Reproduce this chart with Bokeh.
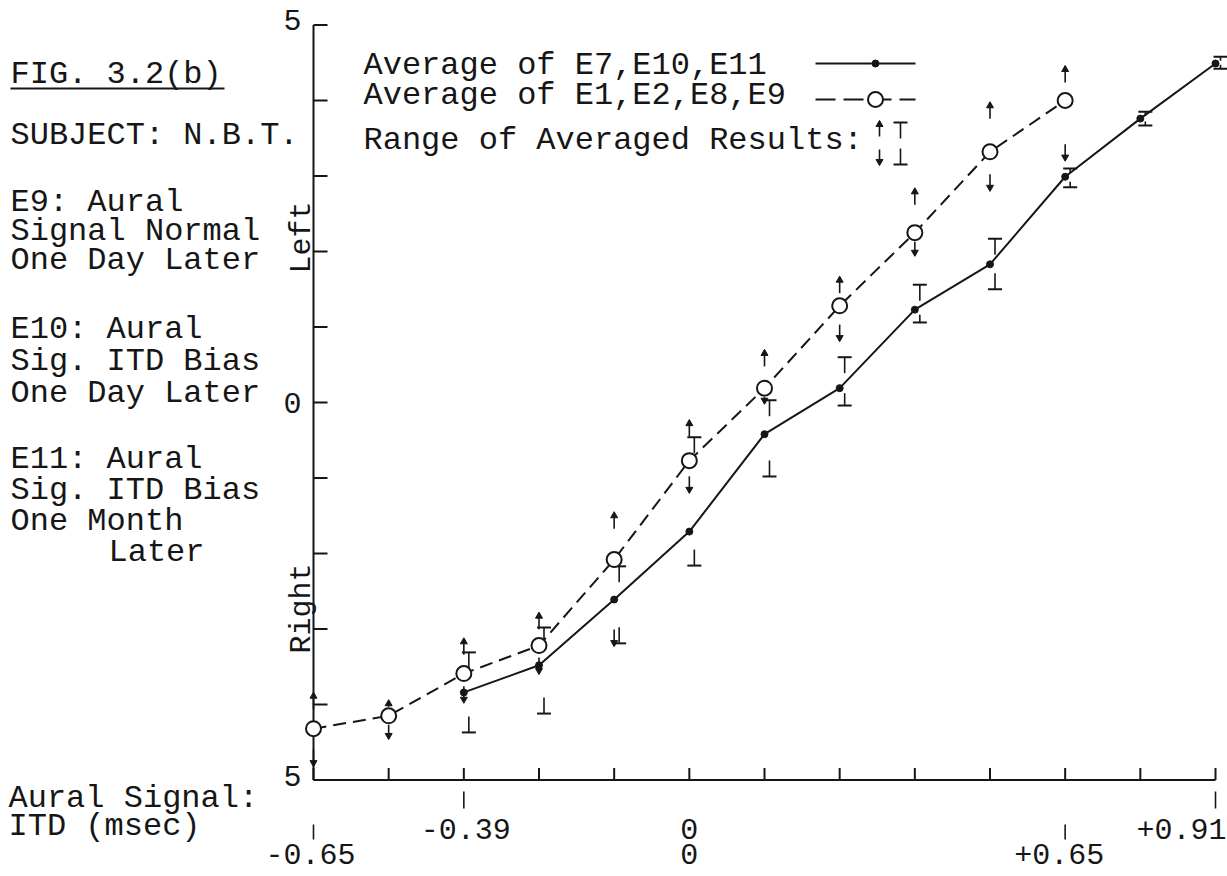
import numpy as np
from bokeh.plotting import figure
from bokeh.models import Range1d
from bokeh.core.properties import value
from bokeh.embed import file_html
from bokeh.resources import INLINE

# ---------------- data ----------------
itd_ticks = [-0.65, -0.52, -0.39, -0.26, -0.13, 0.0, 0.13, 0.26, 0.39, 0.52, 0.65, 0.78, 0.91]

# Average of E1,E2,E8,E9 (dashed, open circles)
avg_a_x = [-0.65, -0.52, -0.39, -0.26, -0.13, 0.0, 0.13, 0.26, 0.39, 0.52, 0.65]
avg_a_y = [-4.32, -4.15, -3.59, -3.22, -2.08, -0.77, 0.19, 1.28, 2.25, 3.32, 4.00]
avg_a_hi = [-3.85, -3.95, -3.13, -2.79, -1.46, -0.24, 0.69, 1.66, 2.83, 3.97, 4.45]
avg_a_lo = [-4.81, -4.45, -3.97, -3.59, -3.22, -1.19, -0.01, 0.82, 1.95, 2.81, 3.21]

# Average of E7,E10,E11 (solid, dots)
avg_b_x = [-0.39, -0.26, -0.13, 0.0, 0.13, 0.26, 0.39, 0.52, 0.65, 0.78, 0.91]
avg_b_y = [-3.84, -3.48, -2.61, -1.71, -0.42, 0.19, 1.23, 1.83, 2.99, 3.76, 4.49]
avg_b_hi = [-3.31, -2.98, -2.17, -0.46, 0.03, 0.60, 1.56, 2.17, 3.10, 3.85, 4.58]
avg_b_lo = [-4.37, -4.12, -3.19, -2.16, -0.98, -0.04, 1.06, 1.50, 2.85, 3.67, 4.42]

y_ticks = [-5, -4, -3, -2, -1, 0, 1, 2, 3, 4, 5]
y_tick_labels = {5: "5", 0: "0", -5: "5"}
x_row1 = [-0.39, 0.0, 0.91]
x_row1_labels = ["-0.39", "0", "+0.91"]
x_row2 = [-0.65, 0.0, 0.65]
x_row2_labels = ["-0.65", "0", "+0.65"]

legend_labels = ["Average of E7,E10,E11", "Average of E1,E2,E8,E9", "Range of Averaged Results:"]
side_notes = ["FIG. 3.2(b)", "SUBJECT: N.B.T.",
              "E9: Aural", "Signal Normal", "One Day Later",
              "E10: Aural", "Sig. ITD Bias", "One Day Later",
              "E11: Aural", "Sig. ITD Bias", "One Month", "Later"]
x_axis_caption = ["Aural Signal:", "ITD (msec)"]

# ---------------- canvas geometry ----------------
W, H = 1227, 876
KX = (1215 - 313) / (0.91 + 0.65)      # px per msec
KY = 75.5                              # px per unit
x_start = -0.65 - 313 / KX
x_end = x_start + W / KX
y_end = 402 / KY
y_start = -(H - 402) / KY
TXT_SHIFT = 8                          # rendered baseline sits a little low


def px(sx):
    return x_start + sx / KX


def py(sy):
    return y_end - sy / KY


def pyt(sy):
    return py(sy - TXT_SHIFT)


INK = "#161616"
FONT = value("Liberation Mono")

p = figure(width=W, height=H, x_range=Range1d(x_start, x_end), y_range=Range1d(y_start, y_end),
           output_backend="svg", toolbar_location=None, min_border=0,
           x_axis_location=None, y_axis_location=None)
p.outline_line_color = None
p.grid.visible = False
p.background_fill_color = "white"
p.border_fill_color = "white"

# ---------------- axes ----------------
yt = np.array(y_ticks, dtype=float)
xt = np.array(itd_ticks, dtype=float)
p.segment(x0=[xt[0]], y0=[yt[0]], x1=[xt[0]], y1=[yt[-1]], line_color=INK, line_width=2)
p.segment(x0=[xt[0]], y0=[yt[0]], x1=[xt[-1]], y1=[yt[0]], line_color=INK, line_width=2)
p.segment(x0=np.full(len(yt), xt[0]), y0=yt, x1=np.full(len(yt), xt[0] + 14 / KX), y1=yt,
          line_color=INK, line_width=2)
p.segment(x0=xt, y0=np.full(len(xt), yt[0]), x1=xt, y1=np.full(len(xt), yt[0] + 12 / KY),
          line_color=INK, line_width=2)
# long label ticks under the axis
r1 = np.array([x_row1[0], x_row1[2]])
p.segment(x0=r1, y0=np.full(2, py(791)), x1=r1, y1=np.full(2, py(808)), line_color=INK, line_width=1.6)
r2 = np.array([x_row2[0], x_row2[2]])
p.segment(x0=r2, y0=np.full(2, py(824)), x1=r2, y1=np.full(2, py(839)), line_color=INK, line_width=1.6)

lab_y = list(y_tick_labels.keys())
lab_t = list(y_tick_labels.values())
p.text(x=[px(292)] * len(lab_y), y=lab_y,
       text=lab_t, text_align="center", text_baseline="middle",
       text_font=FONT, text_font_size="30px", text_color=INK,
       y_offset=[-5 if v == 5 else (-4 if v == -5 else 0) for v in lab_y])
p.text(x=[px(301), px(301)], y=[py(237), py(608)], text=["Left", "Right"], angle=np.pi / 2,
       text_align="center", text_baseline="middle", text_font=FONT, text_font_size="30px",
       text_color=INK)

p.text(x=x_row1[:2], y=[pyt(836)] * 2, text=x_row1_labels[:2], text_align="center",
       text_baseline="alphabetic", x_offset=[2, 0], text_font=FONT, text_font_size="30px", text_color=INK)
p.text(x=[x_row1[2]], y=[pyt(836)], text=[x_row1_labels[2]], text_align="right",
       text_baseline="alphabetic", x_offset=[11], text_font=FONT, text_font_size="30px", text_color=INK)
p.text(x=x_row2, y=[pyt(861)] * 3, text=x_row2_labels, text_align="center", text_baseline="alphabetic",
       x_offset=[-3, 0, -6], text_font=FONT, text_font_size="30px", text_color=INK)

# ---------------- data series ----------------
ax, ay = np.array(avg_a_x), np.array(avg_a_y)
ahi, alo = np.array(avg_a_hi), np.array(avg_a_lo)
bx, by = np.array(avg_b_x), np.array(avg_b_y)
bhi, blo = np.array(avg_b_hi), np.array(avg_b_lo)

p.line(ax, ay, line_color=INK, line_width=2, line_dash="13 7")
p.line(bx, by, line_color=INK, line_width=2)

# range arrows for dashed series
st_hi = np.clip((ahi - ay) * KY - 9, 5, 16) / KY
st_lo = np.clip((ay - alo) * KY - 9, 5, 16) / KY
p.segment(x0=ax, y0=ahi, x1=ax, y1=ahi - st_hi, line_color=INK, line_width=1.6)
p.segment(x0=ax, y0=alo, x1=ax, y1=alo + st_lo, line_color=INK, line_width=1.6)
p.scatter(ax, ahi - 3 / KY, marker="triangle", size=7, fill_color=INK, line_color=INK)
p.scatter(ax, alo + 3 / KY, marker="inverted_triangle", size=7, fill_color=INK, line_color=INK)

# range T / inverted T for solid series
bxo = bx + 5 / KX
sb_hi = np.clip((bhi - by) * KY - 5, 4, 16) / KY
sb_lo = np.clip((by - blo) * KY - 5, 4, 16) / KY
p.segment(x0=bxo, y0=bhi, x1=bxo, y1=bhi - sb_hi, line_color=INK, line_width=1.6)
p.segment(x0=bxo, y0=blo, x1=bxo, y1=blo + sb_lo, line_color=INK, line_width=1.6)
p.scatter(bxo, bhi, marker="dash", size=14, line_color=INK, line_width=2)
p.scatter(bxo, blo, marker="dash", size=14, line_color=INK, line_width=2)

p.scatter(ax, ay, marker="circle", size=15, fill_color="white", line_color=INK, line_width=2)
p.scatter(bx, by, marker="circle", size=7, fill_color=INK, line_color=INK)

# ---------------- legend ----------------
p.text(x=[px(363)] * 3, y=[pyt(73), pyt(103), pyt(148)], text=legend_labels, text_align="left",
       text_baseline="alphabetic", text_font=FONT, text_font_size="32px", text_color=INK)
p.line([px(815), px(915)], [py(63), py(63)], line_color=INK, line_width=2)
p.scatter([px(875)], [py(63)], marker="circle", size=7, fill_color=INK, line_color=INK)
p.line([px(815), px(915)], [py(99), py(99)], line_color=INK, line_width=2, line_dash="20 8")
p.scatter([px(875)], [py(99)], marker="circle", size=15, fill_color="white", line_color=INK, line_width=2)
# range symbols
p.segment(x0=[px(879)] * 2, y0=[py(121), py(164)], x1=[px(879)] * 2, y1=[py(136), py(149)],
          line_color=INK, line_width=1.6)
p.scatter([px(879)], [py(124)], marker="triangle", size=7, fill_color=INK, line_color=INK)
p.scatter([px(879)], [py(161)], marker="inverted_triangle", size=7, fill_color=INK, line_color=INK)
p.segment(x0=[px(900)] * 2, y0=[py(122), py(164)], x1=[px(900)] * 2, y1=[py(138), py(148)],
          line_color=INK, line_width=1.6)
p.scatter([px(900)] * 2, [py(122), py(164)], marker="dash", size=14, line_color=INK, line_width=2)

# ---------------- side notes ----------------
note_x = [10] * 11 + [108]
note_y = [82, 143, 210, 239, 268, 337, 369, 401, 467, 498, 529, 560]
p.text(x=[px(v) for v in note_x], y=[pyt(v) for v in note_y], text=side_notes, text_align="left",
       text_baseline="alphabetic", text_font=FONT, text_font_size="32px", text_color=INK)
p.line([px(10), px(224)], [py(88), py(88)], line_color=INK, line_width=1.8)
p.text(x=[px(8), px(8)], y=[pyt(806), pyt(834)], text=x_axis_caption, text_align="left",
       text_baseline="alphabetic", text_font=FONT, text_font_size="32px", text_color=INK)

open("out.html", "w").write(file_html(p, INLINE))
